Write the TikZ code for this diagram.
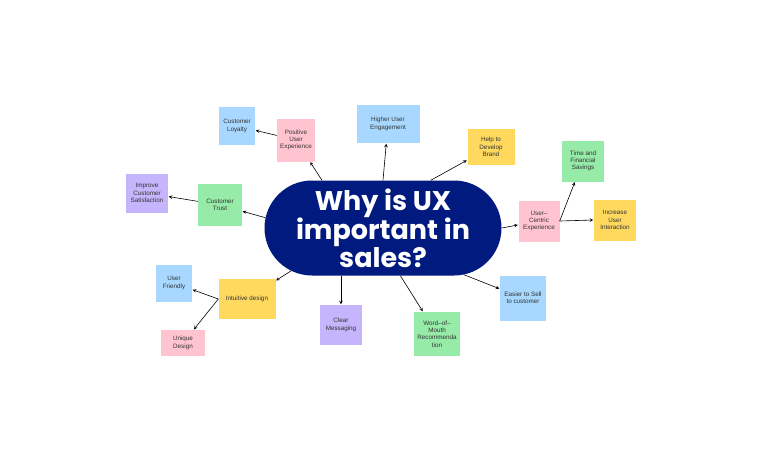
\documentclass[tikz,border=0pt]{standalone}
\usepackage{fontspec}
\setmainfont{Liberation Sans}
\newfontfamily\titlefont{Poppins}
\usetikzlibrary{shapes.misc}
\definecolor{cblue}{HTML}{A8D8FF}
\definecolor{cpink}{HTML}{FFC4CF}
\definecolor{cgreen}{HTML}{96EBA8}
\definecolor{cyellow}{HTML}{FFD95E}
\definecolor{cpurple}{HTML}{C4B5FC}
\definecolor{navy}{HTML}{001A80}
\tikzset{
  note/.style={inner sep=0pt, align=center, font=\fontsize{6.3}{7.3}\selectfont, text=black!80},
  link/.style={-stealth, line width=0.6pt, shorten >=0.5pt}
}
\begin{document}
\begin{tikzpicture}[x=1pt,y=-1pt]
\useasboundingbox[fill=white] (0,0) rectangle (773,461);

% centre
\node[rounded rectangle, fill=navy, minimum width=237pt, minimum height=95pt, inner sep=0pt,
  text=white, align=center, font=\titlefont\bfseries\fontsize{27}{27.5}\selectfont] (c) at (383,228)
  {Why is UX\\important in\\sales?};

% notes
\node[note, fill=cblue, minimum width=36pt, minimum height=38pt] (loyal) at (237,126) {Customer\\Loyalty};
\node[note, fill=cpink, minimum width=38pt, minimum height=43pt] (posux) at (296,140) {Positive\\User\\Experience};
\node[note, fill=cblue, minimum width=63pt, minimum height=38pt] (engage) at (388,124) {Higher User\\Engagement};
\node[note, fill=cyellow, minimum width=47pt, minimum height=36pt] (brand) at (491,147) {Help to\\Develop\\Brand};
\node[note, fill=cgreen, minimum width=42pt, minimum height=41pt] (saving) at (583,161) {Time and\\Financial\\Savings};
\node[note, fill=cyellow, minimum width=42pt, minimum height=41pt] (interact) at (615,220) {Increase\\User\\Interaction};
\node[note, fill=cpink, minimum width=41pt, minimum height=41pt] (ucx) at (539,221) {User--\\Centric\\Experience};
\node[note, fill=cpurple, minimum width=42pt, minimum height=39pt] (satisf) at (147,193) {Improve\\Customer\\Satisfaction};
\node[note, fill=cgreen, minimum width=44pt, minimum height=42pt] (trust) at (220,205) {Customer\\Trust};
\node[note, fill=cyellow, minimum width=57pt, minimum height=40pt] (intuit) at (247,299) {Intuitive design};
\node[note, fill=cblue, minimum width=36pt, minimum height=37pt] (friendly) at (174,283) {User\\Friendly};
\node[note, fill=cpink, minimum width=44pt, minimum height=26pt] (unique) at (183,343) {Unique\\Design};
\node[note, fill=cpurple, minimum width=42pt, minimum height=40pt] (clear) at (341,325) {Clear\\Messaging};
\node[note, fill=cgreen, minimum width=46pt, minimum height=44pt] (word) at (437,334) {Word--of--\\Mouth\\Recommenda\\tion};
\node[note, fill=cblue, minimum width=46pt, minimum height=45pt] (sell) at (523,298) {Easier to Sell\\to customer};

% links
\draw[link] (c.142) -- (posux);
\draw[link] (posux) -- (loyal);
\draw[link] (c.north) -- (engage);
\draw[link] (c.45) -- (brand);
\draw[link] (c.east) -- (ucx);
\draw[link] (ucx.east) -- (saving);
\draw[link] (ucx.east) -- (interact.west);
\draw[link] (c.175) -- (trust);
\draw[link] (trust) -- (satisf);
\draw[link] (c.205) -- (intuit);
\draw[link] (intuit.west) -- (friendly);
\draw[link] (intuit.west) -- (unique);
\draw[link] (clear.north |- c.south) -- (clear);
\draw[link] (c.290) -- (word);
\draw[link] (c.330) -- (sell);
\end{tikzpicture}
\end{document}
